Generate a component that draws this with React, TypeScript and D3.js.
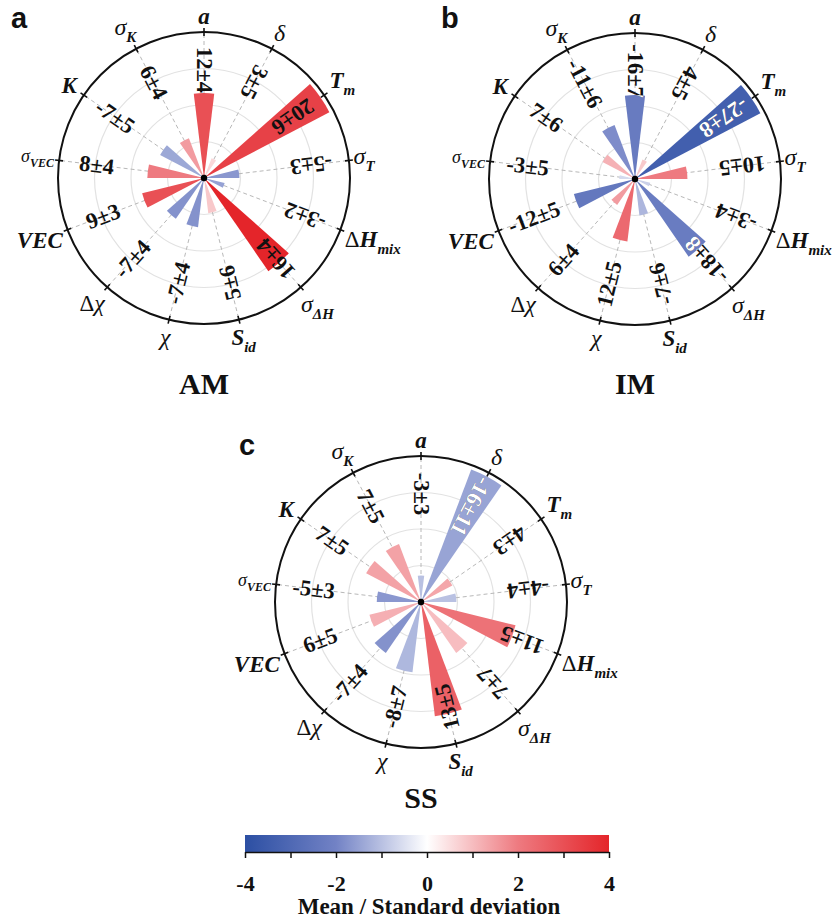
import React, { useEffect, useRef } from "react";
import * as d3 from "d3";

// features, clockwise from the top
const features = ["a", "δ", "Tm", "σT", "ΔHmix", "σΔH", "Sid", "χ", "Δχ", "VEC", "σVEC", "K", "σK"];

// label pieces: [text, kind]  i = bold italic, g = greek italic, u = upright, sub = subscript
const featureLabels: [string, string][][] = [
  [["a", "i"]],
  [["δ", "g"]],
  [["T", "i"], ["m", "sub"]],
  [["σ", "g"], ["T", "sub"]],
  [["Δ", "u"], ["H", "i"], ["mix", "sub"]],
  [["σ", "g"], ["ΔH", "sub"]],
  [["S", "i"], ["id", "sub"]],
  [["χ", "g"]],
  [["Δ", "u"], ["χ", "g"]],
  [["VEC", "i"]],
  [["σ", "gs"], ["VEC", "subs"]],
  [["K", "i"]],
  [["σ", "g"], ["K", "sub"]],
];

// AM
const amMean = [12, 3, 20, -5, -3, 16, 5, -7, -7, 9, 8, -7, 6];
const amStd = [4, 5, 6, 3, 2, 4, 6, 4, 4, 3, 4, 5, 4];
// IM
const imMean = [-16, 4, -27, 10, -3, -18, -7, 12, 6, -12, -3, 7, -11];
const imStd = [7, 5, 8, 5, 4, 8, 6, 5, 4, 5, 5, 6, 6];
// SS
const ssMean = [-3, -16, 4, -4, 11, 7, 13, -8, -7, 6, -5, 7, 7];
const ssStd = [3, 11, 3, 4, 5, 7, 5, 7, 4, 5, 3, 5, 5];

const panelLetters = ["a", "b", "c"];
const panelTitles = ["AM", "IM", "SS"];

// colour bar
const colorStops = [-4, -2, 0, 2, 4];
const colorRange = ["#2c4fa3", "#7282c5", "#ffffff", "#ee7a80", "#e4252a"];
const cbTicks = [-4, -3, -2, -1, 0, 1, 2, 3, 4];
const cbTitle = "Mean / Standard deviation";

const SERIF = "'Liberation Serif', 'Times New Roman', serif";
const SANS = "'Liberation Sans', Arial, sans-serif";

const App = () => {
  const svgRef = useRef<SVGSVGElement>(null);

  useEffect(() => {
    const svg = d3.select(svgRef.current);
    svg.selectAll("*").remove();
    const defs = svg.append("defs");

    const color = d3.scaleLinear<string>().domain(colorStops).range(colorRange);

    const R = 146;
    const n = features.length;
    const step = (2 * Math.PI) / n;
    const barW = step * 0.5;
    const labelR = 108;

    const panels = [
      { mean: amMean, std: amStd, cx: 204, cy: 178, lx: 11, ly: 28, ty: 394 },
      { mean: imMean, std: imStd, cx: 635, cy: 179, lx: 441, ly: 28, ty: 394 },
      { mean: ssMean, std: ssStd, cx: 421, cy: 602, lx: 239, ly: 455, ty: 808 },
    ];

    const arc = d3.arc<any>();
    const grid = d3.scaleLinear().domain([0, 4]).range([0, R]);

    panels.forEach((p, pi) => {
      const g = svg.append("g").attr("transform", `translate(${p.cx},${p.cy})`);
      const maxAbs = d3.max(p.mean, d => Math.abs(d)) as number;
      const r = d3.scaleLinear().domain([0, maxAbs]).range([0, R * 0.97]);

      // grid circles
      [1, 2, 3].forEach(k => {
        g.append("circle")
          .attr("r", grid(k))
          .attr("fill", "none")
          .attr("stroke", "#e2e2e2")
          .attr("stroke-width", 1.2);
      });

      // dashed spokes
      features.forEach((f, i) => {
        const t = i * step;
        g.append("line")
          .attr("x1", 0).attr("y1", 0)
          .attr("x2", R * Math.sin(t)).attr("y2", -R * Math.cos(t))
          .attr("stroke", "#b8b8b8")
          .attr("stroke-width", 1)
          .attr("stroke-dasharray", "4 3");
      });

      // bars
      const barPath = (i: number) => {
        const t = i * step;
        return arc({
          innerRadius: 0,
          outerRadius: r(Math.abs(p.mean[i])),
          startAngle: t - barW / 2,
          endAngle: t + barW / 2,
        }) as string;
      };
      features.forEach((f, i) => {
        g.append("path")
          .attr("d", barPath(i))
          .attr("fill", color(p.mean[i] / p.std[i]));
      });

      // outer circle + ticks
      g.append("circle")
        .attr("r", R)
        .attr("fill", "none")
        .attr("stroke", "#111")
        .attr("stroke-width", 2);
      features.forEach((f, i) => {
        const t = i * step;
        g.append("line")
          .attr("x1", (R - 4) * Math.sin(t)).attr("y1", -(R - 4) * Math.cos(t))
          .attr("x2", (R + 4) * Math.sin(t)).attr("y2", -(R + 4) * Math.cos(t))
          .attr("stroke", "#111")
          .attr("stroke-width", 1.6);
      });

      // value labels, reading towards the centre
      const valueText = (sel: any, i: number, fill: string) => {
        const t = i * step;
        sel.append("text")
          .attr("transform",
            `translate(${labelR * Math.sin(t)},${-labelR * Math.cos(t)}) rotate(${(t * 180) / Math.PI + 90})`)
          .attr("text-anchor", "middle")
          .attr("dominant-baseline", "central")
          .attr("font-family", SERIF)
          .attr("font-weight", "bold")
          .attr("font-size", 22.5)
          .attr("fill", fill)
          .text(`${p.mean[i]}±${p.std[i]}`);
      };
      features.forEach((f, i) => {
        valueText(g, i, "#111");
        if (p.mean[i] < 0) {
          const id = `clip-${pi}-${i}`;
          defs.append("clipPath").attr("id", id).append("path").attr("d", barPath(i));
          const cg = g.append("g").attr("clip-path", `url(#${id})`);
          valueText(cg, i, "#fff");
        }
      });

      // centre dot
      g.append("circle").attr("r", 3.2).attr("fill", "#000");

      // feature labels around the circle
      featureLabels.forEach((parts, i) => {
        const t = i * step;
        const txt = g.append("text")
          .attr("font-family", SERIF)
          .attr("fill", "#111");
        parts.forEach(([s, kind]) => {
          const ts = txt.append("tspan").text(s);
          if (kind === "i") ts.attr("font-style", "italic").attr("font-weight", "bold").attr("font-size", 23);
          else if (kind === "g") ts.attr("font-style", "italic").attr("font-size", 24);
          else if (kind === "gs") ts.attr("font-style", "italic").attr("font-size", 18);
          else if (kind === "u") ts.attr("font-size", 23);
          else if (kind === "sub") ts.attr("font-style", "italic").attr("font-weight", "bold").attr("font-size", 15).attr("dy", 7);
          else if (kind === "subs") ts.attr("font-style", "italic").attr("font-weight", "bold").attr("font-size", 12).attr("dy", 5);
        });
        const bb = (txt.node() as SVGTextElement).getBBox();
        const rr = R + 3 + (bb.width / 2) * Math.abs(Math.sin(t)) + (bb.height / 2) * Math.abs(Math.cos(t));
        const x = rr * Math.sin(t);
        const y = -rr * Math.cos(t);
        txt.attr("transform", `translate(${x - (bb.x + bb.width / 2)},${y - (bb.y + bb.height / 2)})`);
      });

      // panel letter
      svg.append("text")
        .attr("x", p.lx).attr("y", p.ly)
        .attr("font-family", SANS)
        .attr("font-weight", "bold")
        .attr("font-size", 29)
        .attr("fill", "#111")
        .text(panelLetters[pi]);

      // title
      svg.append("text")
        .attr("x", p.cx).attr("y", p.ty)
        .attr("text-anchor", "middle")
        .attr("font-family", SERIF)
        .attr("font-weight", "bold")
        .attr("font-size", 30)
        .attr("fill", "#111")
        .text(panelTitles[pi]);
    });

    // colour bar
    const x0 = 245, x1 = 609, yTop = 835, h = 17;
    const cx = d3.scaleLinear().domain([-4, 4]).range([x0, x1]);
    const grad = defs.append("linearGradient").attr("id", "cbar").attr("x1", "0%").attr("x2", "100%");
    colorStops.forEach((v, k) => {
      grad.append("stop")
        .attr("offset", `${((v + 4) / 8) * 100}%`)
        .attr("stop-color", colorRange[k]);
    });
    svg.append("rect")
      .attr("x", x0).attr("y", yTop)
      .attr("width", x1 - x0).attr("height", h)
      .attr("fill", "url(#cbar)");

    const axis = svg.append("g")
      .attr("transform", `translate(0,${yTop + h})`)
      .call(d3.axisBottom(cx)
        .tickValues(cbTicks)
        .tickSize(6)
        .tickSizeOuter(0)
        .tickPadding(17)
        .tickFormat(d => ((d as number) % 2 === 0 ? `${d}` : "")));
    axis.select(".domain").attr("stroke", "#111").attr("stroke-width", 1.5);
    axis.selectAll(".tick line").attr("stroke", "#111").attr("stroke-width", 1.5);
    axis.selectAll(".tick text")
      .attr("font-family", SERIF)
      .attr("font-weight", "bold")
      .attr("font-size", 22)
      .attr("fill", "#111");

    svg.append("text")
      .attr("x", (x0 + x1) / 2 + 2).attr("y", 914)
      .attr("text-anchor", "middle")
      .attr("font-family", SERIF)
      .attr("font-weight", "bold")
      .attr("font-size", 23)
      .attr("fill", "#111")
      .text(cbTitle);
  }, []);

  return (
    <svg
      ref={svgRef}
      width={839}
      height={922}
      style={{ position: "absolute", left: 0, top: 0, background: "#fff" }}
    ></svg>
  );
};

export default App;
